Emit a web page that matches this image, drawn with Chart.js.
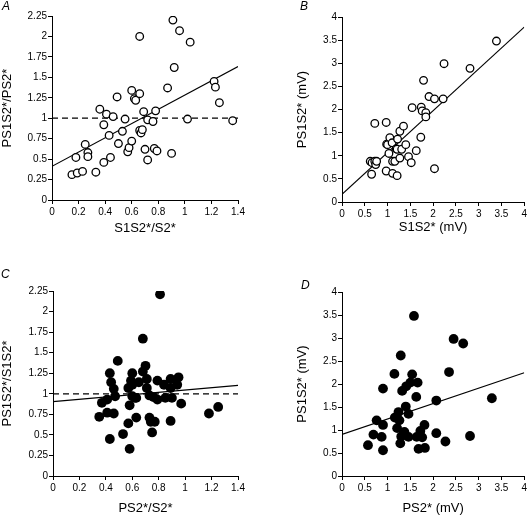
<!DOCTYPE html>
<html>
<head>
<meta charset="utf-8">
<script src="https://cdn.jsdelivr.net/npm/chart.js@4.4.0/dist/chart.umd.min.js"></script>
<style>
body { margin: 0; background: #fff; }
#wrap { position: relative; width: 529px; height: 517px; }
#wrap canvas { position: absolute; }
.lab { position: absolute; font: italic 12px Arial, "Liberation Sans", sans-serif; color: #000; }
</style>
</head>
<body>
<div id="wrap">
	<canvas id="chartA" width="265" height="240" style="left:0;top:0"></canvas>
	<canvas id="chartB" width="264" height="240" style="left:265px;top:0"></canvas>
	<canvas id="chartC" width="265" height="257" style="left:0;top:260px"></canvas>
	<canvas id="chartD" width="264" height="257" style="left:265px;top:260px"></canvas>
	<div class="lab" style="left:2px;top:-1px">A</div>
	<div class="lab" style="left:300px;top:-1px">B</div>
	<div class="lab" style="left:1px;top:267px">C</div>
	<div class="lab" style="left:301px;top:278px">D</div>
</div>
<script>
// A: PS1S2*/PS2* vs S1S2*/S2*
var aX = [0.15,0.19,0.23,0.18,0.25,0.27,0.27,0.33,0.36,0.39,0.39,0.41,0.43,0.44,0.46,0.49,0.50,0.53,0.55,0.57,0.58,0.60,0.60,0.62,0.63,0.66,0.66,0.66,0.67,0.68,0.69,0.70,0.72,0.72,0.76,0.77,0.78,0.79,0.87,0.90,0.91,0.92,0.96,1.02,1.04,1.22,1.23,1.26,1.36];
var aY = [0.31,0.33,0.35,0.52,0.68,0.58,0.53,0.34,1.11,0.46,0.92,1.05,0.79,0.52,1.02,1.26,0.69,0.84,0.99,0.59,0.64,0.72,1.34,1.24,1.22,2.00,1.30,0.85,0.82,0.86,1.08,0.62,0.98,0.49,0.96,0.63,1.09,0.60,1.37,0.57,2.20,1.62,2.07,0.99,1.93,1.45,1.38,1.19,0.97];
// B: PS1S2* vs S1S2* (mV)
var bX = [0.62,0.66,0.72,0.74,0.76,0.65,0.72,0.97,0.97,0.98,1.00,1.05,1.03,1.10,1.11,1.11,1.16,1.19,1.21,1.22,1.21,1.27,1.27,1.31,1.35,1.40,1.46,1.52,1.54,1.63,1.73,1.74,1.76,1.79,1.84,1.84,1.91,2.03,2.03,2.22,2.24,2.81,3.39];
var bY = [0.88,0.85,0.88,0.81,0.88,0.60,1.70,1.72,0.67,1.25,1.24,1.39,1.05,1.28,0.88,0.62,0.88,1.15,0.57,1.36,1.14,1.53,0.95,1.14,1.64,1.24,0.98,0.85,2.04,1.11,1.40,2.05,1.97,2.63,1.93,1.84,2.28,2.23,0.72,2.23,2.99,2.89,3.48];
// C: PS1S2*/S1S2* vs PS2*/S2*
var cX = [0.35,0.37,0.41,0.41,0.43,0.43,0.44,0.46,0.46,0.47,0.49,0.53,0.57,0.58,0.58,0.57,0.59,0.60,0.60,0.60,0.62,0.63,0.63,0.65,0.68,0.68,0.70,0.71,0.71,0.73,0.73,0.74,0.75,0.76,0.77,0.79,0.79,0.81,0.84,0.85,0.89,0.89,0.89,0.90,0.94,0.95,0.97,1.18,1.25];
var cY = [0.72,0.89,0.93,0.77,1.25,0.45,1.14,0.76,1.06,0.97,1.40,0.51,1.07,0.33,0.86,0.64,1.16,1.25,0.97,1.11,0.95,0.71,0.95,1.14,1.67,1.27,1.34,1.18,1.07,0.98,0.71,0.66,0.53,0.96,0.66,1.16,0.93,2.21,1.11,0.95,0.67,1.18,1.07,0.95,1.11,1.20,0.88,0.76,0.84];
// D: PS1S2* vs PS2* (mV)
var dX = [0.57,0.69,0.76,0.87,0.90,0.90,0.90,1.15,1.16,1.21,1.24,1.26,1.28,1.29,1.30,1.32,1.37,1.40,1.41,1.46,1.46,1.50,1.54,1.58,1.64,1.63,1.66,1.68,1.72,1.76,1.81,1.82,2.07,2.07,2.27,2.35,2.45,2.66,2.81,3.29];
var dY = [0.67,0.90,1.21,0.85,0.56,1.90,1.11,2.22,1.27,1.04,1.39,1.21,0.71,2.62,0.86,1.85,0.96,1.51,1.95,1.35,0.85,2.03,2.21,3.48,0.85,1.72,2.03,0.59,0.98,0.84,1.11,0.61,1.64,0.93,0.75,2.26,2.98,2.88,0.87,1.69];

// regression lines: [intercept, slope]
var fitA = [0.412, 0.871];
var fitB = [0.166, 0.904];
var fitC = [0.904, 0.142];
var fitD = [0.904, 0.335];
var unity = 1;

var ratioXTicks = [0, 0.2, 0.4, 0.6, 0.8, 1, 1.2, 1.4];
var ratioYTicks = [0, 0.25, 0.5, 0.75, 1, 1.25, 1.5, 1.75, 2, 2.25];
var mvTicks = [0, 0.5, 1, 1.5, 2, 2.5, 3, 3.5, 4];

var tickFont = { family: '"Liberation Sans Narrow", Arial, "Liberation Sans", sans-serif', size: 10 };
var titleFont = { family: 'Arial, "Liberation Sans", sans-serif', size: 13 };

function toPoints(xs, ys)
{
	var out = [];
	for (var i = 0; i < xs.length; i++)
	{
		out.push({ x: xs[i], y: ys[i] });
	}
	return out;
}

function axis(ticks, title, titlePad, size, horizontal)
{
	return {
		type: 'linear',
		min: ticks[0],
		max: ticks[ticks.length - 1],
		afterBuildTicks: function (s) { s.ticks = ticks.map(function (v) { return { value: v }; }); },
		afterFit: function (s) { if (horizontal) { s.height = size; } else { s.width = size; } },
		border: { display: true, color: '#000', width: 1 },
		grid: { display: true, drawOnChartArea: false, drawTicks: true, tickLength: 4, color: '#000', lineWidth: 1 },
		ticks: {
			color: '#000',
			font: tickFont,
			padding: horizontal ? 2 : 1,
			autoSkip: false,
			maxRotation: 0,
			callback: function (v) { return String(+v.toFixed(2)); }
		},
		title: { display: true, text: title, color: '#000', font: titleFont, padding: titlePad }
	};
}

function panel(id, xs, ys, fit, dashed, hollow, xTicks, yTicks, xTitle, yTitle, box)
{
	var xmax = xTicks[xTicks.length - 1];
	var sets = [
		{
			data: toPoints(xs, ys),
			pointRadius: hollow ? 3.8 : 4.9,
			pointHoverRadius: hollow ? 3.8 : 4.9,
			pointBackgroundColor: hollow ? '#fff' : '#000',
			pointBorderColor: '#000',
			pointBorderWidth: hollow ? 1.3 : 0,
			showLine: false
		},
		{
			data: [{ x: 0, y: fit[0] }, { x: xmax, y: fit[0] + fit[1] * xmax }],
			showLine: true,
			borderColor: '#000',
			borderWidth: 1.1,
			pointRadius: 0
		}
	];
	if (dashed)
	{
		sets.push({
			data: [{ x: 0, y: unity }, { x: xmax, y: unity }],
			showLine: true,
			borderColor: '#000',
			borderWidth: 1.2,
			borderDash: [6, 4],
			pointRadius: 0
		});
	}
	return new Chart(document.getElementById(id), {
		type: 'scatter',
		data: { datasets: sets },
		options: {
			responsive: false,
			animation: false,
			events: [],
			layout: { autoPadding: false, padding: { left: 0, top: box.top, right: box.right, bottom: 0 } },
			plugins: { legend: { display: false }, tooltip: { enabled: false } },
			scales: {
				x: axis(xTicks, xTitle, { top: 0, bottom: box.xPad }, box.xh, true),
				y: axis(yTicks, yTitle, { top: box.yPad, bottom: 0 }, box.yw, false)
			}
		}
	});
}

panel('chartA', aX, aY, fitA, true, true, ratioXTicks, ratioYTicks, 'S1S2*/S2*', 'PS1S2*/PS2*',
	{ top: 16, right: 27, yw: 52, xh: 40, xPad: 4, yPad: 0 });
panel('chartB', bX, bY, fitB, false, true, mvTicks, mvTicks, 'S1S2* (mV)', 'PS1S2* (mV)',
	{ top: 17, right: 2, yw: 77, xh: 38, xPad: 5, yPad: 30 });
panel('chartC', cX, cY, fitC, true, false, ratioXTicks, ratioYTicks, 'PS2*/S2*', 'PS1S2*/S1S2*',
	{ top: 31, right: 27, yw: 53, xh: 41, xPad: 1, yPad: 0 });
panel('chartD', dX, dY, fitD, false, false, mvTicks, mvTicks, 'PS2* (mV)', 'PS1S2* (mV)',
	{ top: 32, right: 2, yw: 77, xh: 41, xPad: 1, yPad: 30 });
</script>
</body>
</html>
